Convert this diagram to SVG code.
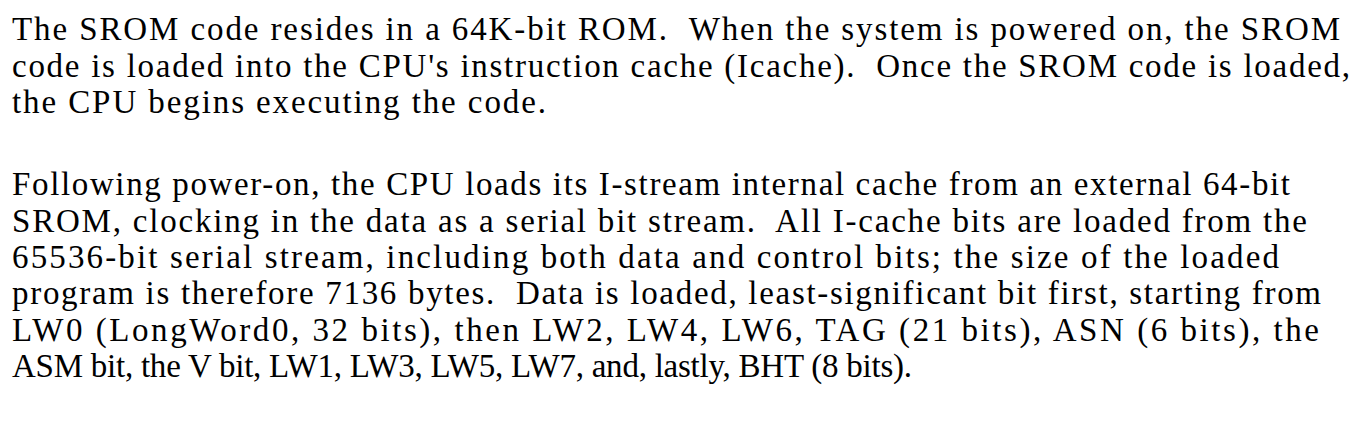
<svg xmlns="http://www.w3.org/2000/svg" width="1372" height="434" viewBox="0 0 1372 434">
<style>text{font-family:"Liberation Serif","Times New Roman",serif;font-size:33px;fill:#000;white-space:pre}</style>
<rect width="1372" height="434" fill="#fff"/>
<g id="para1">
<text x="12" y="40" textLength="1328" lengthAdjust="spacing">The SROM code resides in a 64K-bit ROM.  When the system is powered on, the SROM</text>
<text x="12" y="77" textLength="1338" lengthAdjust="spacing">code is loaded into the CPU's instruction cache (Icache).  Once the SROM code is loaded,</text>
<text x="12" y="113" textLength="534" lengthAdjust="spacing">the CPU begins executing the code.</text>
</g>
<g id="para2">
<text x="12" y="195" textLength="1278" lengthAdjust="spacing">Following power-on, the CPU loads its I-stream internal cache from an external 64-bit</text>
<text x="12" y="232" textLength="1295" lengthAdjust="spacing">SROM, clocking in the data as a serial bit stream.  All I-cache bits are loaded from the</text>
<text x="12" y="268" textLength="1267" lengthAdjust="spacing">65536-bit serial stream, including both data and control bits; the size of the loaded</text>
<text x="12" y="304" textLength="1309" lengthAdjust="spacing">program is therefore 7136 bytes.  Data is loaded, least-significant bit first, starting from</text>
<text x="12" y="341" textLength="1307" lengthAdjust="spacing">LW0 (LongWord0, 32 bits), then LW2, LW4, LW6, TAG (21 bits), ASN (6 bits), the</text>
<text x="12" y="377" textLength="900" lengthAdjust="spacing">ASM bit, the V bit, LW1, LW3, LW5, LW7, and, lastly, BHT (8 bits).</text>
</g>
</svg>
